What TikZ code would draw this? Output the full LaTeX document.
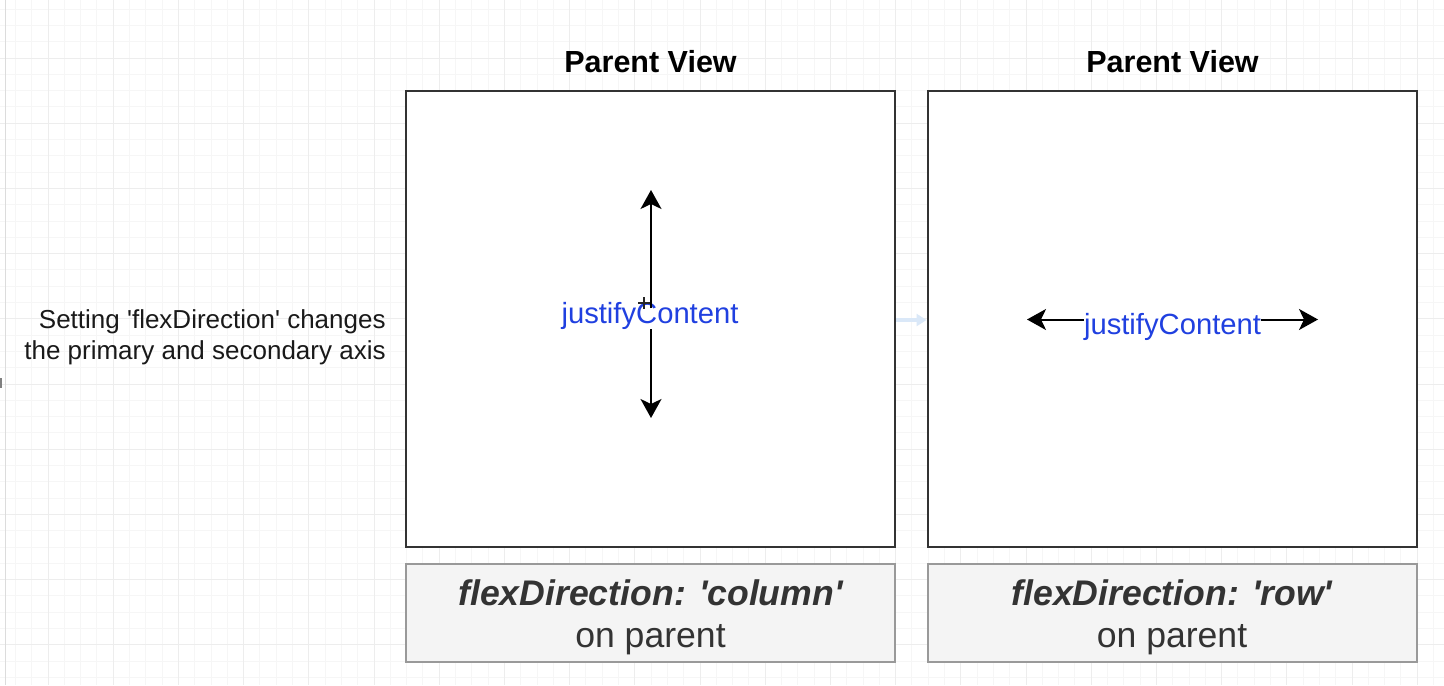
\documentclass[tikz,border=0pt]{standalone}
\usepackage{fontspec}
\setmainfont{Liberation Sans}
\usetikzlibrary{arrows.meta}
\definecolor{gridminor}{HTML}{F6F6F6}
\definecolor{gridmajor}{HTML}{EDEDED}
\definecolor{edgegray}{HTML}{DCDCDC}
\definecolor{framegray}{HTML}{333333}
\definecolor{notefill}{HTML}{F4F4F4}
\definecolor{noteline}{HTML}{999999}
\definecolor{notetext}{HTML}{333333}
\definecolor{jcblue}{HTML}{2040E0}
\definecolor{hintblue}{HTML}{DAE8F8}
\newcommand\sq{\textquotesingle}

\begin{document}
\begin{tikzpicture}[x=0.5pt,y=-0.5pt,
  viewbox/.style={draw=framegray, line width=1pt, fill=white,
    minimum width=244.5pt, minimum height=228pt, inner sep=0pt},
  notebox/.style={draw=noteline, line width=1pt, fill=notefill,
    minimum width=244.5pt, minimum height=49pt, inner sep=0pt},
  notetxt/.style={text=notetext, align=center, inner sep=0pt,
    font=\fontsize{17.8}{21}\selectfont},
  title/.style={font=\bfseries\fontsize{15.25}{18}\selectfont, inner sep=0pt, anchor=base},
  jc/.style={text=jcblue, font=\fontsize{14.6}{17}\selectfont, inner sep=0pt, anchor=base},
  axis/.style={draw=black, line width=1pt,
    -{Stealth[length=9.5pt,width=10.5pt,inset=2.5pt]}},
  hint/.style={draw=hintblue, line width=2pt,
    -{Triangle[length=5pt,width=6pt]}},
  gminor/.style={draw=gridminor, line width=0.5pt},
  gmajor/.style={draw=gridmajor, line width=0.5pt},
]
\useasboundingbox (0,0) rectangle (1444,685);
\fill[white] (0,0) rectangle (1444,685);

% background grid
\foreach \k in {-2,...,85} \draw[gminor] ({48+16.3*\k},0) -- ({48+16.3*\k},685);
\foreach \k in {-3,...,38} \draw[gminor] (0,{58+16.3*\k}) -- (1444,{58+16.3*\k});
\foreach \k in {0,4,...,84} \draw[gmajor] ({48+16.3*\k},0) -- ({48+16.3*\k},685);
\foreach \k in {0,4,...,36} \draw[gmajor] (0,{58+16.3*\k}) -- (1444,{58+16.3*\k});
\draw[edgegray, line width=0.5pt] (5,0) -- (5,685);
\fill[gray] (0,378) rectangle (2,388);

% explanation
\node[anchor=east, align=right, inner sep=0pt, text=black!90,
  font=\fontsize{13}{15.5}\selectfont] (note) at (386,337)
  {Setting \sq flexDirection\sq{} changes\\the primary and secondary axis};

% the two parent views
\node[viewbox] (colview) at (650.5,319) {};
\node[viewbox] (rowview) at (1172,319) {};
\node[title] (coltitle) at (650.5,72) {Parent View};
\node[title] (rowtitle) at (1172.5,72) {Parent View};

% hint connector between the views
\coordinate (hinty) at (0,320);
\draw[hint] (colview.east |- hinty) -- (rowview.west |- hinty);

% column: main axis is vertical
\node[jc] (jc1) at (650,323) {justifyContent};
\coordinate (up1) at (651,190);
\coordinate (dn1) at (651,418);
\draw[axis, shorten <=-3.3pt] (up1 |- jc1.north) -- (up1);
\draw[axis] (dn1 |- jc1.south) -- (dn1);

% mouse pointer
\draw[black!85, line width=0.8pt] (638,303) -- (650,303) (644,297) -- (644,309);

% row: main axis is horizontal
\node[jc] (jc2) at (1172.5,334) {justifyContent};
\coordinate (lt2) at (1027,319.5);
\coordinate (rt2) at (1318,319.5);
\draw[axis] (jc2.west |- lt2) -- (lt2);
\draw[axis] (jc2.east |- rt2) -- (rt2);

% captions
\node[notebox] (colcap) at (650.5,613) {};
\node[notebox] (rowcap) at (1172,613) {};
\node[notetxt] (coltxt) at (650.5,617)
  {{\bfseries\itshape flexDirection: \sq column\sq}\\on parent};
\node[notetxt] (rowtxt) at (1172,617)
  {{\bfseries\itshape flexDirection: \sq row\sq}\\on parent};
\end{tikzpicture}
\end{document}
